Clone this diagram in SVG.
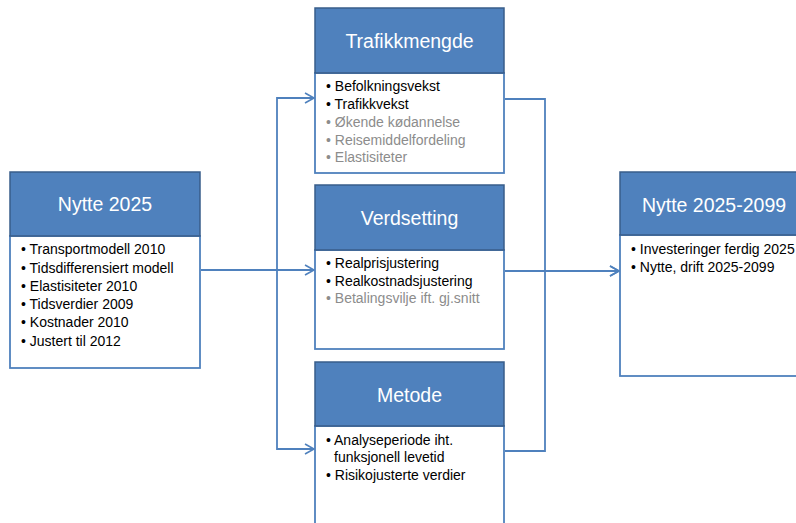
<svg xmlns="http://www.w3.org/2000/svg" width="796" height="523" viewBox="0 0 796 523">
<defs>
<marker id="arr" markerWidth="12" markerHeight="14" refX="10" refY="6" orient="auto" markerUnits="userSpaceOnUse">
<path d="M1,1 L10,6 L1,11" fill="none" stroke="#4F81BD" stroke-width="1.6"/>
</marker>
<style>
.hdr{fill:#4F81BD;stroke:#385D8A;stroke-width:1.5}
.body{fill:#FFFFFF;stroke:#4F81BD;stroke-width:1.8}
.ht{font-family:"Liberation Sans",Arial,sans-serif;font-size:19.5px;fill:#FFFFFF;text-anchor:middle}
.bt{font-family:"Liberation Sans",Arial,sans-serif;font-size:14px;fill:#000000}
.g{fill:#8C8C8C}
.con{fill:none;stroke:#4F81BD;stroke-width:1.8}
</style>
</defs>
<rect width="796" height="523" fill="#FFFFFF"/>

<g id="connectors">
<path class="con" d="M201,270 H277 V98 H314" marker-end="url(#arr)"/>
<path class="con" d="M201,270 H314" marker-end="url(#arr)"/>
<path class="con" d="M277,270 V449 H314" marker-end="url(#arr)"/>
<path class="con" d="M505,99 H545 V271 H619" marker-end="url(#arr)"/>
<path class="con" d="M505,271 H619" marker-end="url(#arr)"/>
<path class="con" d="M505,451 H545 V271"/>
</g>

<g id="nytte2025">
<rect class="body" x="10" y="236" width="190" height="132"/>
<rect class="hdr" x="10" y="172" width="190" height="64"/>
<text class="ht" x="105" y="211">Nytte 2025</text>
<text class="bt" x="21" y="254">• Transportmodell 2010</text>
<text class="bt" x="21" y="273">• Tidsdifferensiert modell</text>
<text class="bt" x="21" y="291">• Elastisiteter 2010</text>
<text class="bt" x="21" y="309">• Tidsverdier 2009</text>
<text class="bt" x="21" y="327">• Kostnader 2010</text>
<text class="bt" x="21" y="346">• Justert til 2012</text>
</g>

<g id="trafikkmengde">
<rect class="body" x="315" y="73" width="189" height="100"/>
<rect class="hdr" x="315" y="8" width="189" height="65"/>
<text class="ht" x="409.5" y="48">Trafikkmengde</text>
<text class="bt" x="326" y="91">• Befolkningsvekst</text>
<text class="bt" x="326" y="109">• Trafikkvekst</text>
<text class="bt g" x="326" y="127">• Økende kødannelse</text>
<text class="bt g" x="326" y="145">• Reisemiddelfordeling</text>
<text class="bt g" x="326" y="162">• Elastisiteter</text>
</g>

<g id="verdsetting">
<rect class="body" x="315" y="250" width="189" height="99"/>
<rect class="hdr" x="315" y="185" width="189" height="65"/>
<text class="ht" x="409.5" y="225">Verdsetting</text>
<text class="bt" x="326" y="268">• Realprisjustering</text>
<text class="bt" x="326" y="286">• Realkostnadsjustering</text>
<text class="bt g" x="326" y="303">• Betalingsvilje ift. gj.snitt</text>
</g>

<g id="metode">
<rect class="body" x="315" y="426" width="189" height="110"/>
<rect class="hdr" x="315" y="362" width="189" height="64"/>
<text class="ht" x="409.5" y="402">Metode</text>
<text class="bt" x="326" y="445">• Analyseperiode iht.</text>
<text class="bt" x="334" y="462">funksjonell levetid</text>
<text class="bt" x="326" y="480">• Risikojusterte verdier</text>
</g>

<g id="nytte2025-2099">
<rect class="body" x="620" y="235" width="190" height="141"/>
<rect class="hdr" x="620" y="172" width="190" height="63"/>
<text class="ht" x="714" y="212">Nytte 2025-2099</text>
<text class="bt" x="631" y="254">• Investeringer ferdig 2025</text>
<text class="bt" x="631" y="272">• Nytte, drift 2025-2099</text>
</g>
</svg>
